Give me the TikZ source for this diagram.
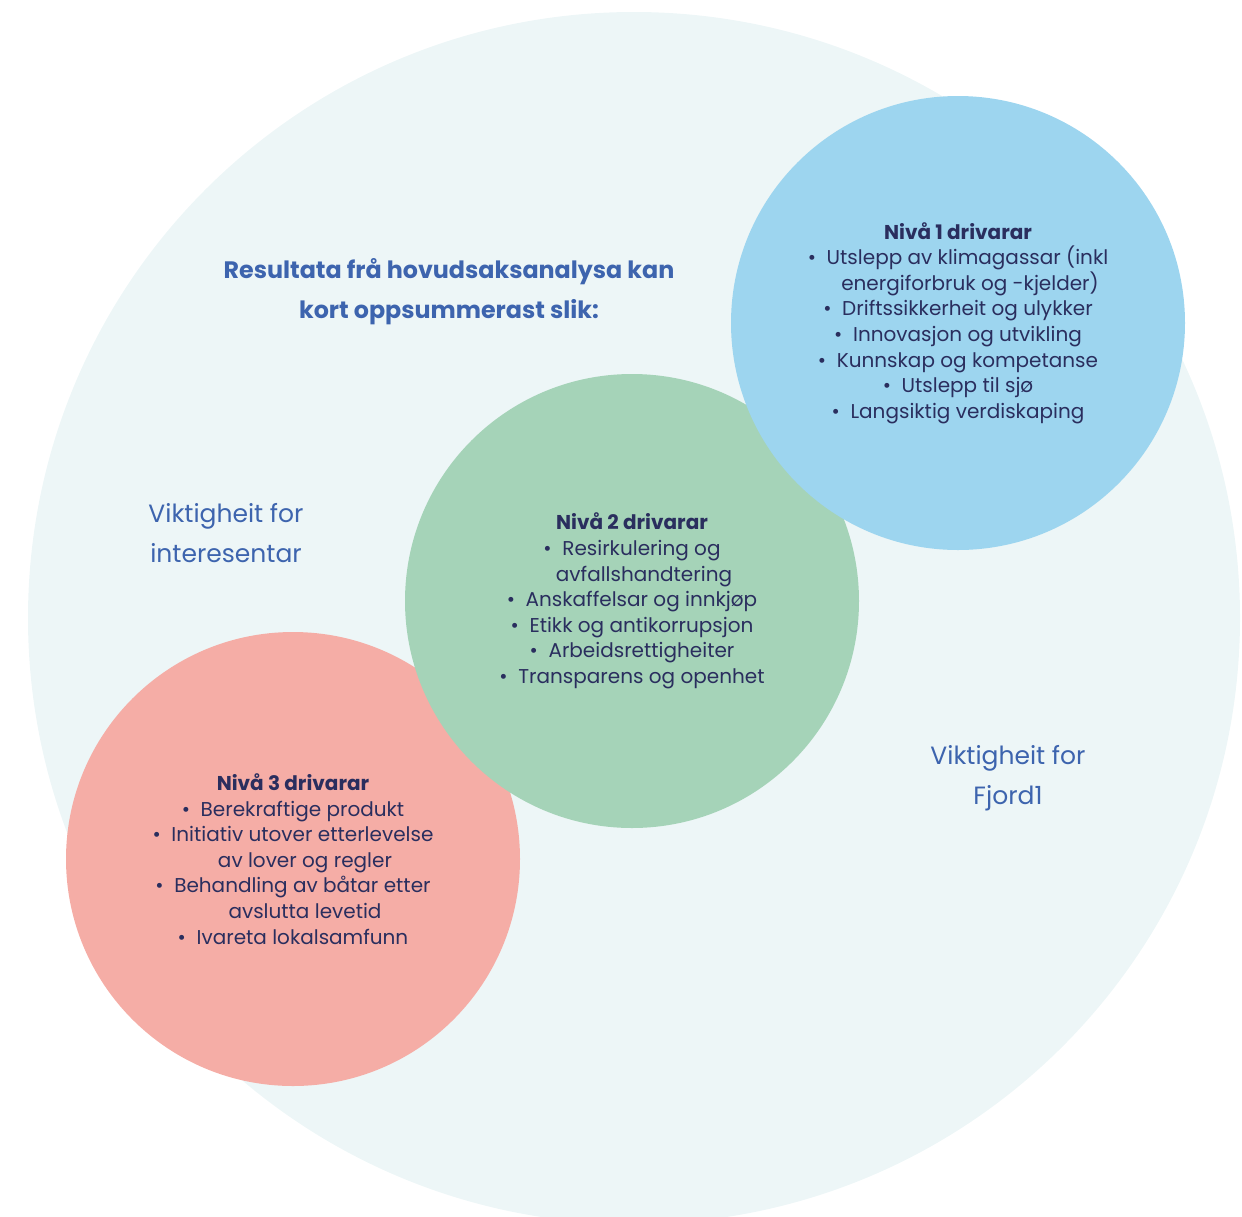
\documentclass[tikz,border=0pt]{standalone}
\usepackage{fontspec}
\setmainfont{Poppins}
\usetikzlibrary{positioning}

\definecolor{bakgrunn}{HTML}{EDF6F7}
\definecolor{blaa}{HTML}{9DD5EF}
\definecolor{groen}{HTML}{A5D3B8}
\definecolor{raud}{HTML}{F5ADA6}
\definecolor{mork}{HTML}{2A2E5E}
\definecolor{tittel}{HTML}{3D64AE}

\tikzset{
  niva/.style={circle,minimum size=454pt,inner sep=0pt,align=center,text=mork,
    font=\fontsize{20}{25.6}\selectfont},
  etikett/.style={align=center,text=tittel,font=\fontsize{25}{39.5}\selectfont}
}
\newcommand{\bp}{\textbullet\ \ }

\begin{document}
\begin{tikzpicture}[x=1pt,y=-1pt]
\useasboundingbox (0,0) rectangle (1242,1216);
\fill[bakgrunn] (634,618) circle[radius=606pt];
\node[niva,fill=raud] (niva3) at (293,859) {\textbf{Nivå 3 drivarar}\\
  \bp Berekraftige produkt\\
  \bp Initiativ utover etterlevelse\\
  \hspace{1.2em}av lover og regler\\
  \bp Behandling av båtar etter\\
  \hspace{1.2em}avslutta levetid\\
  \bp Ivareta lokalsamfunn};
\node[niva,fill=groen] (niva2) at (632,601) {\textbf{Nivå 2 drivarar}\\
  \bp Resirkulering og\\
  \hspace{1.2em}avfallshandtering\\
  \bp Anskaffelsar og innkjøp\\
  \bp Etikk og antikorrupsjon\\
  \bp Arbeidsrettigheiter\\
  \bp Transparens og openhet};
\node[niva,fill=blaa] (niva1) at (958,323) {\textbf{Nivå 1 drivarar}\\
  \bp Utslepp av klimagassar (inkl\\
  \hspace{1.2em}energiforbruk og -kjelder)\\
  \bp Driftssikkerheit og ulykker\\
  \bp Innovasjon og utvikling\\
  \bp Kunnskap og kompetanse\\
  \bp Utslepp til sjø\\
  \bp Langsiktig verdiskaping};
\node[etikett,font=\fontsize{23.8}{40}\selectfont\bfseries] (overskrift) at (449,292)
  {Resultata frå hovudsaksanalysa kan\\kort oppsummerast slik:};
\node[etikett] (interesentar) at (226,533) {Viktigheit for\\interesentar};
\node[etikett] (fjord) at (1008,778) {Viktigheit for\\Fjord1};
\end{tikzpicture}
\end{document}
